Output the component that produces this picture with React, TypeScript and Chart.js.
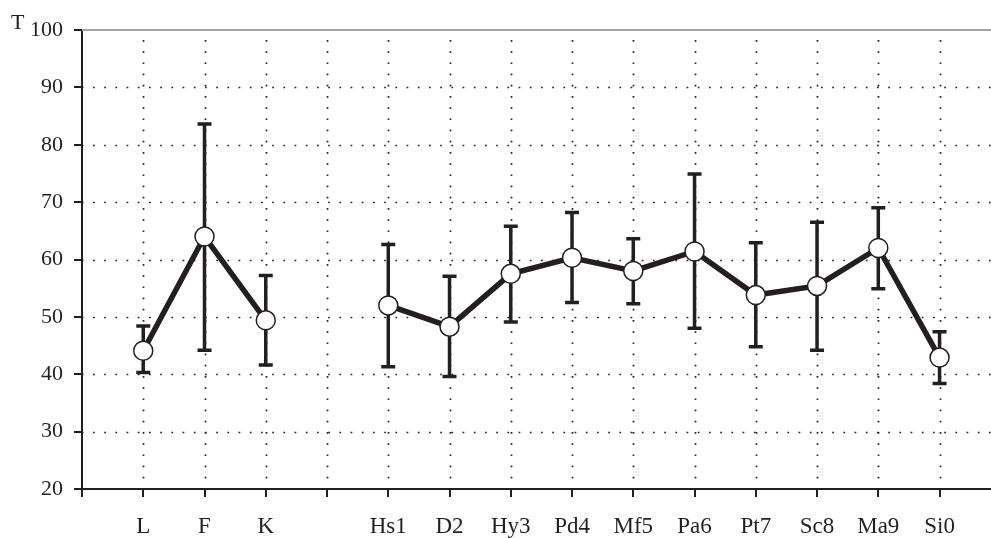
import React, { useEffect, useRef } from "react";
import { Chart, registerables } from "chart.js";

Chart.register(...registerables);

const categories = ["", "L", "F", "K", "", "Hs1", "D2", "Hy3", "Pd4", "Mf5", "Pa6", "Pt7", "Sc8", "Ma9", "Si0"];
const means: (number | null)[] = [null, 44.1, 64.0, 49.4, null, 52.0, 48.3, 57.5, 60.3, 58.0, 61.4, 53.8, 55.4, 62.0, 42.9];
const upper: (number | null)[] = [null, 48.4, 83.6, 57.2, null, 62.6, 57.1, 65.8, 68.2, 63.6, 74.9, 62.9, 66.5, 69.0, 47.4];
const lower: (number | null)[] = [null, 40.3, 44.2, 41.6, null, 41.3, 39.6, 49.1, 52.5, 52.3, 48.0, 44.8, 44.2, 54.9, 38.4];
const yTicks = [20, 30, 40, 50, 60, 70, 80, 90, 100];
const yLabel = "T";

const INK = "#231f20";
const FONT = "Liberation Serif";

const gridPlugin = {
  id: "dottedGrid",
  beforeDatasetsDraw(chart: any) {
    const { ctx, chartArea, scales } = chart;
    const xs = scales.x;
    const ys = scales.y;
    ctx.save();
    ctx.strokeStyle = INK;
    ctx.lineWidth = 1.7;
    ctx.setLineDash([1.7, 9.5]);
    yTicks.forEach((v) => {
      if (v === 20 || v === 100) return;
      const y = Math.round(ys.getPixelForValue(v)) + 0.5;
      ctx.beginPath();
      ctx.lineDashOffset = -11;
      ctx.moveTo(chartArea.left, y);
      ctx.lineTo(chartArea.right, y);
      ctx.stroke();
    });
    categories.forEach((_, i) => {
      if (i === 0) return;
      const x = Math.round(xs.getPixelForValue(i)) + 0.5;
      ctx.beginPath();
      ctx.lineDashOffset = -10;
      ctx.moveTo(x, chartArea.top);
      ctx.lineTo(x, chartArea.bottom);
      ctx.stroke();
    });
    ctx.setLineDash([]);
    ctx.strokeStyle = "#a3a3a3";
    ctx.lineWidth = 2;
    const yt = ys.getPixelForValue(100);
    ctx.beginPath();
    ctx.moveTo(chartArea.left, yt);
    ctx.lineTo(chartArea.right, yt);
    ctx.stroke();

    ctx.strokeStyle = INK;
    ctx.lineWidth = 3.5;
    means.forEach((m, i) => {
      if (m === null || upper[i] === null || lower[i] === null) return;
      const x = xs.getPixelForValue(i);
      const y1 = ys.getPixelForValue(upper[i] as number);
      const y2 = ys.getPixelForValue(lower[i] as number);
      ctx.beginPath();
      ctx.moveTo(x, y1);
      ctx.lineTo(x, y2);
      ctx.moveTo(x - 7, y1);
      ctx.lineTo(x + 7, y1);
      ctx.moveTo(x - 7, y2);
      ctx.lineTo(x + 7, y2);
      ctx.stroke();
    });
    ctx.restore();
  },
  afterDraw(chart: any) {
    const { ctx } = chart;
    ctx.save();
    ctx.fillStyle = INK;
    ctx.font = `22px "${FONT}"`;
    ctx.textBaseline = "alphabetic";
    ctx.textAlign = "left";
    ctx.fillText(yLabel, 11, 29);
    ctx.restore();
  },
};

export default function App() {
  const ref = useRef<HTMLCanvasElement | null>(null);
  useEffect(() => {
    if (!ref.current) return;
    const chart = new Chart(ref.current, {
      type: "line",
      data: {
        datasets: [
          {
            data: means.map((v, i) => ({ x: i, y: v })) as any,
            borderColor: INK,
            borderWidth: 5.5,
            pointRadius: 9.5,
            pointBorderWidth: 1.5,
            pointBackgroundColor: "#ffffff",
            pointBorderColor: INK,
            spanGaps: false,
            tension: 0,
            clip: false as any,
          },
        ],
      },
      options: {
        responsive: false,
        animation: false,
        layout: { autoPadding: false, padding: { top: 30, right: 0, left: 0, bottom: 0 } },
        plugins: { legend: { display: false }, tooltip: { enabled: false } },
        scales: {
          x: {
            type: "linear",
            min: 0,
            max: 14.84,
            afterBuildTicks: (s: any) => {
              s.ticks = categories.map((_, i) => ({ value: i }));
            },
            afterFit: (s: any) => {
              s.height = 49;
              s.paddingRight = 0;
              s.paddingLeft = 0;
            },
            ticks: {
              autoSkip: false,
              maxRotation: 0,
              padding: 16,
              color: INK,
              font: { family: FONT, size: 23 },
              callback: (v: any) => categories[v] ?? "",
            },
            grid: {
              display: true,
              drawOnChartArea: false,
              drawTicks: true,
              tickLength: 8,
              color: INK,
              lineWidth: 2,
            },
            border: { display: true, color: INK, width: 2 },
          },
          y: {
            type: "linear",
            min: 20,
            max: 100,
            afterBuildTicks: (s: any) => {
              s.ticks = yTicks.map((v) => ({ value: v }));
            },
            afterFit: (s: any) => {
              s.width = 82;
            },
            ticks: {
              padding: 11,
              color: INK,
              font: { family: FONT, size: 22 },
            },
            grid: {
              display: true,
              drawOnChartArea: false,
              drawTicks: true,
              tickLength: 8,
              color: INK,
              lineWidth: 2,
            },
            border: { display: true, color: INK, width: 2 },
          },
        },
      },
      plugins: [gridPlugin],
    });
    return () => chart.destroy();
  }, []);
  return (
    <div style={{ position: "absolute", left: 0, top: 0, width: 991, height: 538, background: "#fff" }}>
      <canvas ref={ref} width={991} height={538} style={{ display: "block" }} />
    </div>
  );
}
